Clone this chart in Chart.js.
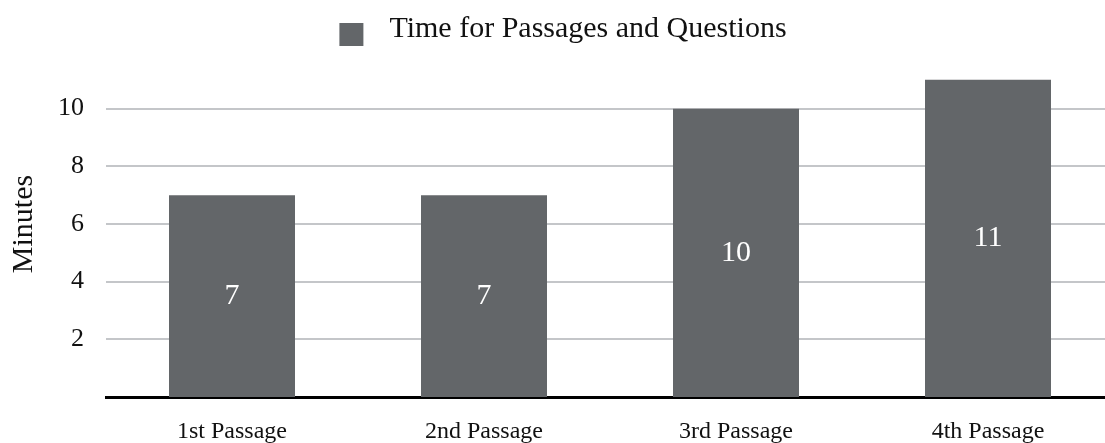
<!DOCTYPE html>
<html>
<head>
<meta charset="utf-8">
<script src="https://cdn.jsdelivr.net/npm/chart.js@4"></script>
<style>
  html, body { margin: 0; padding: 0; background: #fff; overflow: hidden; }
  #wrap { width: 1114px; height: 443px; }
</style>
</head>
<body>
<div id="wrap"><canvas id="chart" width="1114" height="443"></canvas></div>
<script>
const categories = ["1st Passage", "2nd Passage", "3rd Passage", "4th Passage"];
const minutes = [7, 7, 10, 11];
const seriesLabel = "Time for Passages and Questions";
const yTicks = [2, 4, 6, 8, 10];

const FONT = "'Liberation Serif', 'DejaVu Serif', serif";
const BAR_COLOR = "#636669";
const GRID_COLOR = "#c4c6c9";

// legend drawn by hand so the square sits a little low, like the original
const topLegend = {
  id: "topLegend",
  afterDraw(chart) {
    const ctx = chart.ctx;
    const label = chart.data.datasets[0].label;
    ctx.save();
    ctx.font = "30px " + FONT;
    const textW = ctx.measureText(label).width;
    const box = 24;
    const gap = 26;
    const total = box + gap + textW;
    const x0 = chart.width / 2 + 6 - total / 2;
    ctx.fillStyle = chart.data.datasets[0].backgroundColor;
    ctx.fillRect(x0, 23, box, 23);
    ctx.fillStyle = "#111";
    ctx.textBaseline = "alphabetic";
    ctx.textAlign = "left";
    ctx.fillText(label, x0 + box + gap, 37);
    ctx.restore();
  }
};

// white value labels inside each bar
const barValues = {
  id: "barValues",
  afterDatasetsDraw(chart) {
    const ctx = chart.ctx;
    const meta = chart.getDatasetMeta(0);
    const yScale = chart.scales.y;
    ctx.save();
    ctx.font = "30px " + FONT;
    ctx.fillStyle = "#fff";
    ctx.textAlign = "center";
    ctx.textBaseline = "middle";
    meta.data.forEach((bar, i) => {
      const v = chart.data.datasets[0].data[i];
      ctx.fillText(String(v), bar.x, yScale.getPixelForValue(v / 2));
    });
    ctx.restore();
  }
};

new Chart(document.getElementById("chart"), {
  type: "bar",
  data: {
    labels: categories,
    datasets: [{
      label: seriesLabel,
      data: minutes,
      backgroundColor: BAR_COLOR,
      borderWidth: 0,
      categoryPercentage: 1,
      barPercentage: 0.5
    }]
  },
  options: {
    responsive: false,
    animation: false,
    layout: { padding: { top: 51, right: 0, left: 0, bottom: 0 } },
    plugins: {
      legend: { display: false },
      tooltip: { enabled: false }
    },
    scales: {
      x: {
        grid: { display: false, drawTicks: false },
        border: { display: true, color: "#000", width: 3 },
        ticks: {
          color: "#111",
          font: { family: FONT, size: 24 },
          padding: 20,
          maxRotation: 0
        },
        afterFit(scale) { scale.height = 46; }
      },
      y: {
        min: 0,
        max: 12,
        afterBuildTicks(scale) {
          scale.ticks = yTicks.map(v => ({ value: v }));
        },
        grid: { color: GRID_COLOR, lineWidth: 2, drawTicks: false },
        border: { display: false },
        ticks: {
          color: "#111",
          font: { family: FONT, size: 26 },
          padding: 22
        },
        title: {
          display: true,
          text: "Minutes",
          color: "#111",
          font: { family: FONT, size: 30 },
          padding: { top: 6, bottom: 0 }
        },
        afterFit(scale) { scale.width = 106; }
      }
    }
  },
  plugins: [topLegend, barValues]
});
</script>
</body>
</html>
